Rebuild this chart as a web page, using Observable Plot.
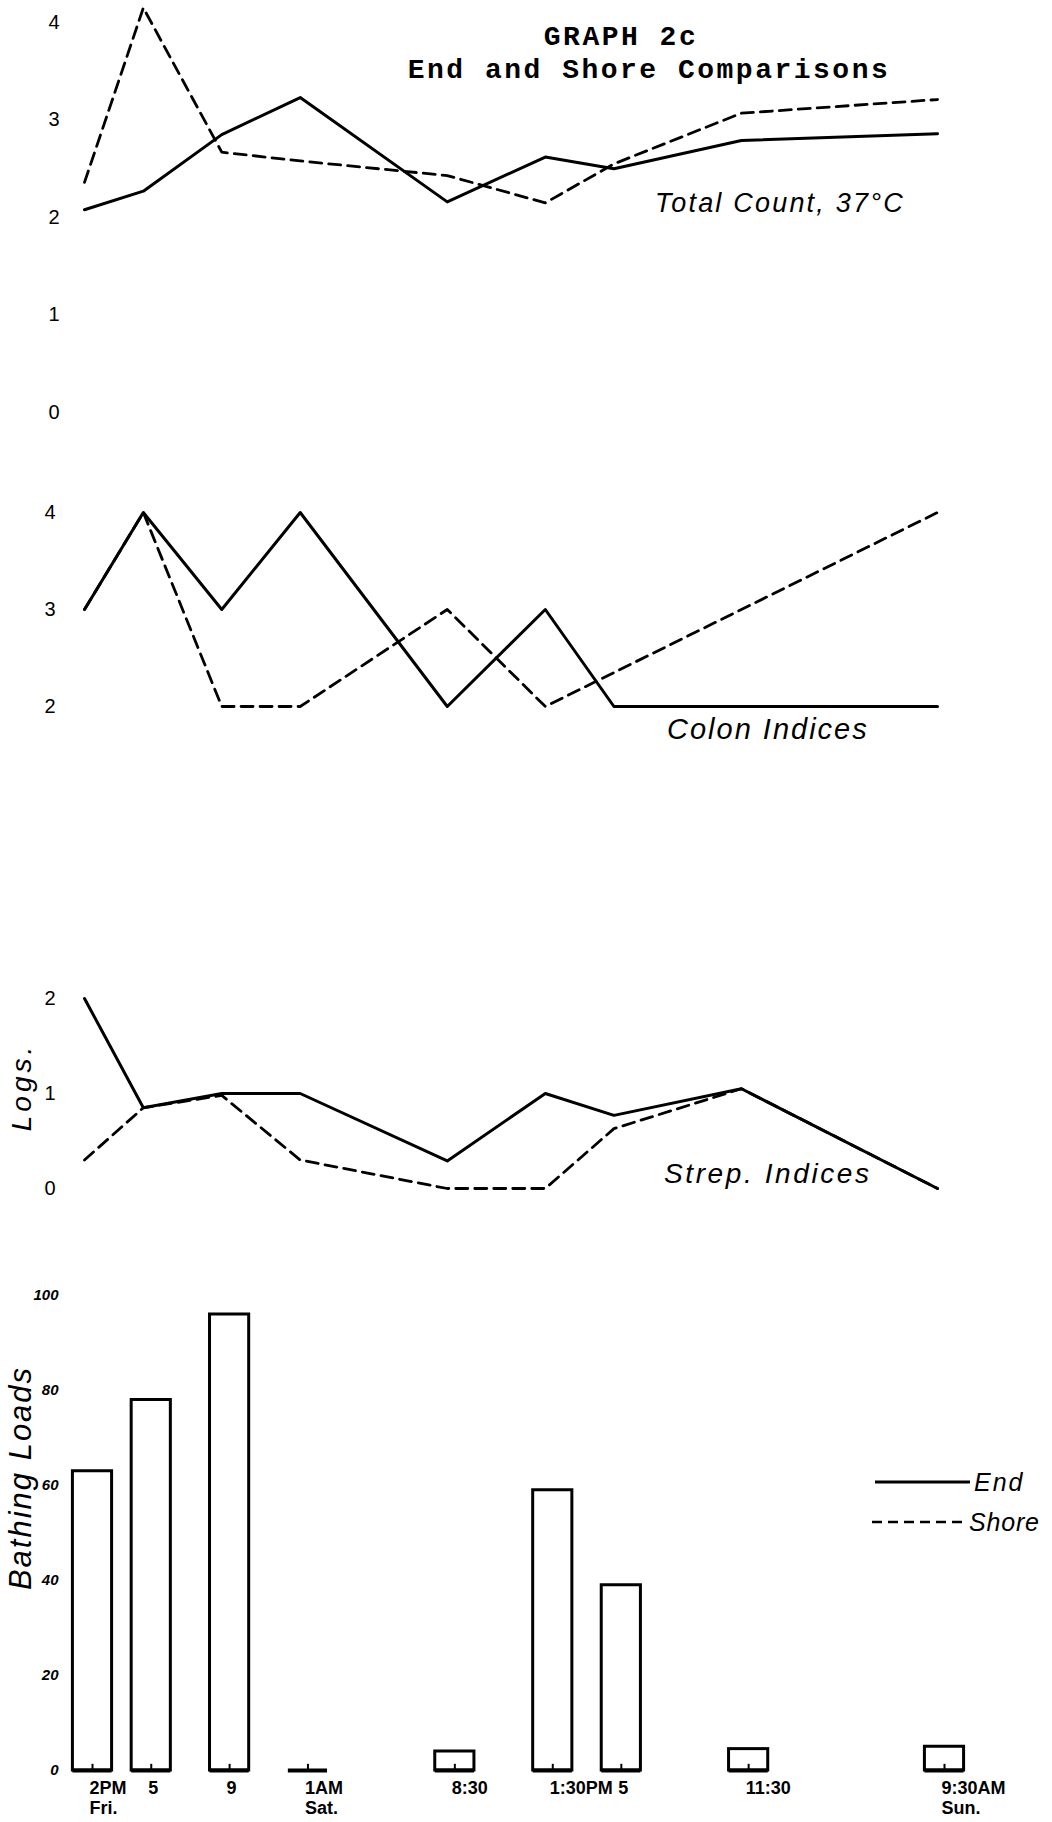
<!DOCTYPE html>
<html>
<head>
<meta charset="utf-8">
<script src="https://cdn.jsdelivr.net/npm/d3@7"></script>
<script src="https://cdn.jsdelivr.net/npm/@observablehq/plot@0.6"></script>
<style>
  body { margin: 0; background: #fff; }
  #wrap { position: relative; width: 1052px; height: 1822px; background: #fff; overflow: hidden; }
  #overlay { position: absolute; left: 0; top: 0; pointer-events: none; }
</style>
</head>
<body>
<div id="wrap"></div>
<script>
// Sampling times: hours after 2 PM Friday
const times = [0, 3, 7, 11, 18.5, 23.5, 27, 33.5, 43.5];
const tickLabels = ["2PM\nFri.", "5", "9", "1AM\nSat.", "8:30", "1:30PM", "5", "11:30", "9:30AM\nSun."];

// Total Count, 37°C (logs)
const totalEnd   = [2.08, 2.27, 2.85, 3.23, 2.16, 2.62, 2.50, 2.79, 2.86];
const totalShore = [2.36, 4.15, 2.67, 2.58, 2.43, 2.15, 2.55, 3.07, 3.21];

// Colon indices
const colonEnd   = [3, 4, 3, 4, 2, 3, 2, 2, 2];
const colonShore = [3, 4, 2, 2, 3, 2, null, 3, 4];

// Strep. indices (logs)
const strepEnd   = [2.0, 0.85, 1.0, 1.0, 0.29, 1.0, 0.77, 1.05, 0.0];
const strepShore = [0.3, 0.85, 0.98, 0.3, 0.0, 0.0, 0.63, 1.05, 0.0];

// Bathing loads
const bathingLoads = [63, 78, 96, 0, 4, 59, 39, 4.5, 5];

const totalTicks = [0, 1, 2, 3, 4];
const colonTicks = [2, 3, 4];
const strepTicks = [0, 1, 2];
const loadTicks  = [0, 20, 40, 60, 80, 100];

const wrap = document.getElementById("wrap");
const labelMap = new Map(times.map((t, i) => [t, tickLabels[i]]));
const rows = (vals) => times.map((t, i) => ({t, v: vals[i]})).filter(d => d.v != null);
const hand = "'Liberation Sans', Arial, sans-serif";
const mono = "'Liberation Mono', 'DejaVu Sans Mono', monospace";

function place(svg, top) {
  svg.style.position = "absolute";
  svg.style.left = "0px";
  svg.style.top = top + "px";
  svg.style.background = "transparent";
  svg.style.overflow = "visible";
  wrap.appendChild(svg);
}

function linePanel(top, height, marginTop, marginBottom, domain, ticks, endVals, shoreVals, tickPadding) {
  const svg = Plot.plot({
    width: 1052, height, marginTop, marginBottom, marginLeft: 84, marginRight: 115,
    x: {domain: [0, 43.5]},
    y: {domain},
    marks: [
      Plot.axisX({ticks: [], tickSize: 0, label: null}),
      Plot.axisY({ticks, tickSize: 0, tickPadding, fontSize: 20, label: null,
                  fontFamily: hand, tickFormat: d => String(d)}),
      Plot.line(rows(endVals), {x: "t", y: "v", stroke: "#000", strokeWidth: 3,
                  strokeLinejoin: "round", strokeLinecap: "round"}),
      Plot.line(rows(shoreVals), {x: "t", y: "v", stroke: "#000", strokeWidth: 2.8,
                  strokeDasharray: "12,7", strokeLinejoin: "round"})
    ]
  });
  place(svg, top);
}

linePanel(0, 430, 22, 18, [0, 4], totalTicks, totalEnd, totalShore, 25);
linePanel(440, 320, 72, 54, [2, 4], colonTicks, colonEnd, colonShore, 29);
linePanel(960, 250, 38, 22, [0, 2], strepTicks, strepEnd, strepShore, 29);

// Bathing loads bars
const bars = times.map((t, i) => ({t, load: bathingLoads[i]}));
const barSvg = Plot.plot({
  width: 1052, height: 552, marginTop: 25, marginBottom: 52, marginLeft: 92, marginRight: 108,
  x: {domain: [0, 43.5]},
  y: {domain: [0, 100]},
  marks: [
    Plot.axisY({ticks: loadTicks, tickSize: 0, tickPadding: 34, fontSize: 15, fontStyle: "italic",
                fontWeight: "bold", label: null, fontFamily: hand}),
    Plot.axisX({ticks: times, tickSize: 0, tickPadding: 9, tickFormat: d => labelMap.get(d),
                textAnchor: "start", dx: -3, fontSize: 18, fontWeight: "bold", lineHeight: 1.12,
                label: null, fontFamily: hand}),
    Plot.rect(bars, {x1: d => d.t - 1, x2: d => d.t + 1, y1: 0, y2: "load",
                     fill: "white", stroke: "#000", strokeWidth: 3}),
    Plot.ruleY(bars, {x1: d => d.t - 1, x2: d => d.t + 1, y: 0, stroke: "#000", strokeWidth: 4}),
    Plot.ruleX(bars, {x: "t", y1: 0, y2: 1.3, stroke: "#000", strokeWidth: 2})
  ]
});
place(barSvg, 1270);

// Titles, panel labels, legend
const ns = "http://www.w3.org/2000/svg";
const ov = document.createElementNS(ns, "svg");
ov.setAttribute("id", "overlay");
ov.setAttribute("width", 1052);
ov.setAttribute("height", 1822);
ov.innerHTML = `
  <g font-family="${mono}" font-weight="bold" font-size="28" fill="#000" text-anchor="middle" letter-spacing="2.5">
    <text x="621" y="45">GRAPH 2c</text>
    <text x="649" y="78">End and Shore Comparisons</text>
  </g>
  <g font-family="${hand}" font-style="italic" fill="#000">
    <text x="655" y="212" font-size="27" letter-spacing="2.2">Total Count, 37°C</text>
    <text x="667" y="739" font-size="29" letter-spacing="2">Colon Indices</text>
    <text x="664" y="1183" font-size="28" letter-spacing="2.6">Strep. Indices</text>
    <text transform="translate(31,1087) rotate(-90)" text-anchor="middle" font-size="28" letter-spacing="4">Logs.</text>
    <text transform="translate(31,1478) rotate(-90)" text-anchor="middle" font-size="31" letter-spacing="2">Bathing Loads</text>
  </g>
  <g stroke="#000" fill="none">
    <line x1="875" y1="1482" x2="970" y2="1482" stroke-width="3"/>
    <line x1="872" y1="1522" x2="967" y2="1522" stroke-width="2.5" stroke-dasharray="10,6"/>
  </g>
  <g font-family="${hand}" font-style="italic" font-size="25" fill="#000">
    <text x="974" y="1491" letter-spacing="2">End</text>
    <text x="969" y="1531" letter-spacing="0.8">Shore</text>
  </g>
`;
wrap.appendChild(ov);
</script>
</body>
</html>
